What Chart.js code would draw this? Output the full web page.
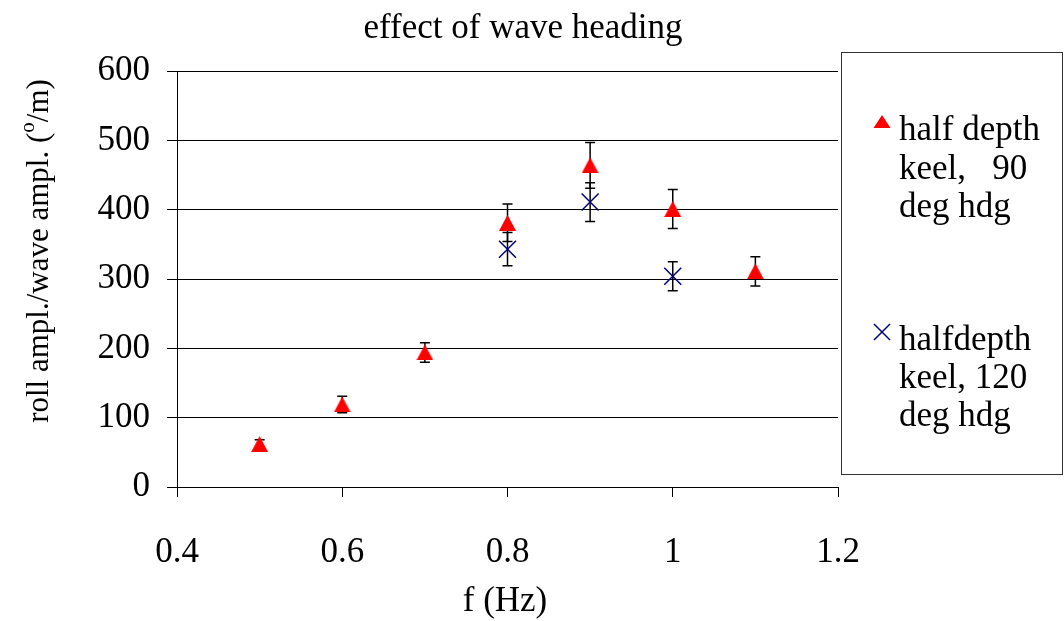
<!DOCTYPE html>
<html><head><meta charset="utf-8">
<script src="https://cdn.jsdelivr.net/npm/chart.js@4"></script>
<style>html,body{margin:0;padding:0;background:#fff}#wrap{width:1064px;height:621px}</style>
</head><body><div id="wrap"><canvas id="c" width="1064" height="621"></canvas></div>
<script>
// ---- data ----
const freq90 = [0.5, 0.6, 0.7, 0.8, 0.9, 1.0, 1.1];
const roll90 = [62, 119, 194, 381, 464, 401, 311];
const err90  = [6, 12, 14, 27, 33, 28, 21];
const freq120 = [0.8, 0.9, 1.0];
const roll120 = [343, 411, 304];
const err120  = [24, 28, 21];
const xTicks = [0.4, 0.6, 0.8, 1.0, 1.2];
const yTicks = [0, 100, 200, 300, 400, 500, 600];
const legend90  = ["half depth", "keel,   90", "deg hdg"];
const legend120 = ["halfdepth", "keel, 120", "deg hdg"];
const titleText = "effect of wave heading";
const xTitleText = "f (Hz)";
const yTitleParts = ["roll ampl./wave ampl. (", "o", "/m)"];

const FONT = "'Liberation Serif', 'Times New Roman', serif";
const RED = '#ff0000';
const NAVY = '#000080';

function triImg(w, h) {
  const c = document.createElement('canvas');
  c.width = w; c.height = h;
  const g = c.getContext('2d');
  g.fillStyle = RED;
  g.beginPath(); g.moveTo(w / 2, 0); g.lineTo(w, h); g.lineTo(0, h); g.closePath(); g.fill();
  return c;
}
const triMarker = triImg(17, 16);

const errorBars = {
  id: 'errorBars',
  beforeDatasetsDraw(chart) {
    const ctx = chart.ctx, xs = chart.scales.x, ys = chart.scales.y;
    const sets = [[freq90, roll90, err90], [freq120, roll120, err120]];
    ctx.save();
    ctx.strokeStyle = '#000'; ctx.lineWidth = 1.5;
    sets.forEach(([fx, fy, fe]) => {
      fx.forEach((f, i) => {
        const px = xs.getPixelForValue(f);
        const top = ys.getPixelForValue(fy[i] + fe[i]);
        const bot = ys.getPixelForValue(fy[i] - fe[i]);
        ctx.beginPath();
        ctx.moveTo(px, top); ctx.lineTo(px, bot);
        ctx.moveTo(px - 5, top); ctx.lineTo(px + 5, top);
        ctx.moveTo(px - 5, bot); ctx.lineTo(px + 5, bot);
        ctx.stroke();
      });
    });
    ctx.restore();
  }
};

const decorations = {
  id: 'decorations',
  afterDraw(chart) {
    const ctx = chart.ctx;
    ctx.save();
    ctx.fillStyle = '#000';
    ctx.font = `35px ${FONT}`;
    ctx.textBaseline = 'alphabetic';
    ctx.textAlign = 'center';
    ctx.fillText(titleText, 523, 38);
    ctx.fillText(xTitleText, 505, 611);
    // y title (rotated, superscript o)
    ctx.save();
    ctx.translate(48, 251);
    ctx.rotate(-Math.PI / 2);
    ctx.textAlign = 'left';
    const supFont = `21px ${FONT}`, mainFont = `31px ${FONT}`;
    ctx.font = mainFont;
    const w1 = ctx.measureText(yTitleParts[0]).width;
    const w3 = ctx.measureText(yTitleParts[2]).width;
    ctx.font = supFont;
    const w2 = ctx.measureText(yTitleParts[1]).width;
    let x0 = -(w1 + w2 + w3) / 2;
    ctx.font = mainFont; ctx.fillText(yTitleParts[0], x0, 0); x0 += w1;
    ctx.font = supFont; ctx.fillText(yTitleParts[1], x0, -14); x0 += w2;
    ctx.font = mainFont; ctx.fillText(yTitleParts[2], x0, 0);
    ctx.restore();
    // legend box
    ctx.strokeStyle = '#333'; ctx.lineWidth = 1;
    ctx.strokeRect(841.5, 52.5, 221, 422);
    ctx.font = `35px ${FONT}`;
    ctx.textAlign = 'left';
    ctx.textBaseline = 'middle';
    legend90.forEach((t, i) => ctx.fillText(t, 899, 131 + i * 38.5));
    legend120.forEach((t, i) => ctx.fillText(t, 899, 341 + i * 38));
    ctx.fillStyle = RED;
    ctx.beginPath(); ctx.moveTo(882, 115); ctx.lineTo(890.5, 128); ctx.lineTo(873.5, 128); ctx.closePath(); ctx.fill();
    ctx.strokeStyle = NAVY; ctx.lineWidth = 1.5;
    ctx.beginPath();
    ctx.moveTo(874, 324); ctx.lineTo(890, 340);
    ctx.moveTo(890, 324); ctx.lineTo(874, 340);
    ctx.stroke();
    ctx.restore();
  }
};

new Chart(document.getElementById('c'), {
  type: 'scatter',
  data: {
    datasets: [
      {
        label: legend90.join(' '),
        data: freq90.map((f, i) => ({ x: f, y: roll90[i] })),
        pointStyle: triMarker,
        backgroundColor: RED, borderColor: RED,
        pointRadius: 9
      },
      {
        label: legend120.join(' '),
        data: freq120.map((f, i) => ({ x: f, y: roll120[i] })),
        pointStyle: 'crossRot',
        pointRadius: 12, borderWidth: 1.5,
        backgroundColor: NAVY, borderColor: NAVY
      }
    ]
  },
  options: {
    responsive: false, animation: false, devicePixelRatio: 1,
    layout: { padding: { left: 0, top: 71, right: 226, bottom: 0 } },
    plugins: { legend: { display: false }, title: { display: false }, tooltip: { enabled: false } },
    scales: {
      x: {
        type: 'linear', min: 0.4, max: 1.2,
        afterBuildTicks: s => { s.ticks = xTicks.map(v => ({ value: v })); },
        afterFit: s => { s.height = 134; },
        ticks: { color: '#000', font: { family: FONT, size: 35 }, padding: 35, maxRotation: 0,
                 callback: v => String(v) },
        grid: { drawOnChartArea: false, drawTicks: true, tickLength: 10, color: '#000', lineWidth: 1 },
        border: { display: true, color: '#000', width: 1 }
      },
      y: {
        min: 0, max: 600,
        afterBuildTicks: s => { s.ticks = yTicks.map(v => ({ value: v })); },
        afterFit: s => { s.width = 177; },
        ticks: { color: '#000', font: { family: FONT, size: 35 }, padding: 17, callback: v => String(v) },
        grid: { drawOnChartArea: true, drawTicks: true, tickLength: 10, color: '#000', lineWidth: 1 },
        border: { display: true, color: '#000', width: 1 }
      }
    }
  },
  plugins: [errorBars, decorations]
});
</script>
</body></html>
